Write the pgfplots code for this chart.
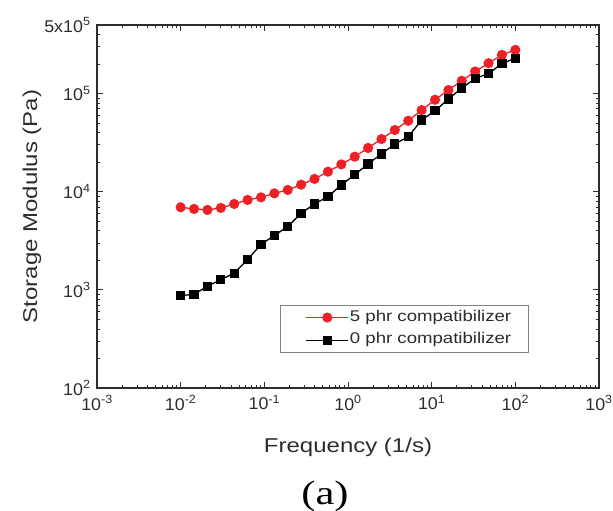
\documentclass[border=0pt]{standalone}
\usepackage{pgfplots}
\pgfplotsset{compat=1.18}
\usepackage{fontspec}
\setmainfont{Liberation Sans}[FakeStretch=1.2]
\newfontfamily\tickfont{Liberation Sans}[FakeStretch=1.05]
\newfontfamily\serifst{Liberation Serif}[FakeStretch=1.25]
\definecolor{myred}{RGB}{236,32,38}
\definecolor{axgray}{RGB}{45,45,45}

\pgfplotstableread{
x y
0.01 6940
0.014454 6680
0.020893 6530
0.030200 6840
0.043652 7510
0.063096 8250
0.091201 8770
0.13183 9630
0.19055 10420
0.27542 11800
0.39811 13500
0.57544 16000
0.83176 19000
1.2023 22760
1.7378 27900
2.5119 34450
3.6308 42550
5.2481 52850
7.5858 67900
10.965 86500
15.849 108600
22.909 135000
33.113 168000
47.863 204000
69.183 248000
100 279000
}\redtable

\pgfplotstableread{
x y
0.01 877
0.014454 898
0.020893 1090
0.030200 1270
0.043652 1480
0.063096 2040
0.091201 2900
0.13183 3580
0.19055 4420
0.27542 6030
0.39811 7510
0.57544 8910
0.83176 11720
1.2023 14930
1.7378 19190
2.5119 24300
3.6308 30650
5.2481 36400
7.5858 53700
10.965 66800
15.849 87900
22.909 113700
33.113 142600
47.863 160000
69.183 202000
100 229500
}\blacktable

\begin{document}
\begin{tikzpicture}
\useasboundingbox (0,0) rectangle (613pt,511pt);
\begin{axis}[
  at={(97pt,123pt)}, anchor=south west,
  scale only axis, width=502pt, height=363pt,
  xmode=log, ymode=log,
  xmin=1e-3, xmax=1e3, ymin=100, ymax=5e5,
  axis line style={line width=1.1pt, color=axgray},
  every tick/.style={line width=0.8pt, color=axgray},
  tick align=inside,
  major tick length=6pt, minor tick length=3.5pt,
  xtick={0.001,0.01,0.1,1,10,100,1000},
  xticklabels={10\textsuperscript{-3},10\textsuperscript{-2},10\textsuperscript{-1},10\textsuperscript{0},10\textsuperscript{1},10\textsuperscript{2},10\textsuperscript{3}},
  minor xtick={0.002,0.003,0.004,0.005,0.006,0.007,0.008,0.009,
    0.02,0.03,0.04,0.05,0.06,0.07,0.08,0.09,
    0.2,0.3,0.4,0.5,0.6,0.7,0.8,0.9,
    2,3,4,5,6,7,8,9,
    20,30,40,50,60,70,80,90,
    200,300,400,500,600,700,800,900},
  ytick={100,1000,10000,100000,500000},
  yticklabels={10\textsuperscript{2},10\textsuperscript{3},10\textsuperscript{4},10\textsuperscript{5},5x10\textsuperscript{5}},
  minor ytick={200,300,400,500,600,700,800,900,
    2000,3000,4000,5000,6000,7000,8000,9000,
    20000,30000,40000,50000,60000,70000,80000,90000,
    200000,300000,400000},
  ticklabel style={font=\tickfont\fontsize{17}{19}\selectfont, text=axgray},
  xticklabel style={yshift=-4pt},
  yticklabel style={xshift=-3pt},
  xlabel={Frequency (1/s)},
  ylabel={Storage Modulus (Pa)},
  label style={font=\fontsize{20}{23}\selectfont, text=axgray},
  xlabel style={at={(axis description cs:0.5,0)}, anchor=base, yshift=-65pt},
  ylabel style={at={(axis description cs:-0.1195,0.5)}, anchor=base, rotate=0},
  legend style={at={(0.365,0.096)}, anchor=south west,
    draw={rgb,255:red,130;green,130;blue,130}, line width=0.8pt,
    font=\fontsize{15.5}{18}\selectfont, text=axgray,
    cells={anchor=west}, inner xsep=0pt, inner ysep=5pt,
    nodes={inner sep=0pt, text height=11pt, text depth=4pt},
    row sep=7.7pt, column sep=1pt},
  legend image code/.code={
    \path (0pt,0pt);
    \draw[mark repeat=2,mark phase=2,#1] plot coordinates {(25pt,0pt) (46pt,0pt) (67pt,0pt)};
  },
]
\addplot[color=myred, line width=1.3pt, mark=*, mark size=4.4pt] table[x=x,y=y] {\redtable};
\addlegendentry{5 phr compatibilizer\kern17pt}
\addplot[color=black, line width=1.3pt, mark=square*, mark size=4pt] table[x=x,y=y] {\blacktable};
\addlegendentry{0 phr compatibilizer\kern17pt}
\end{axis}
\node[font=\serifst\fontsize{34}{40}\selectfont, anchor=base] at (325pt,6pt) {(a)};
\end{tikzpicture}
\end{document}
